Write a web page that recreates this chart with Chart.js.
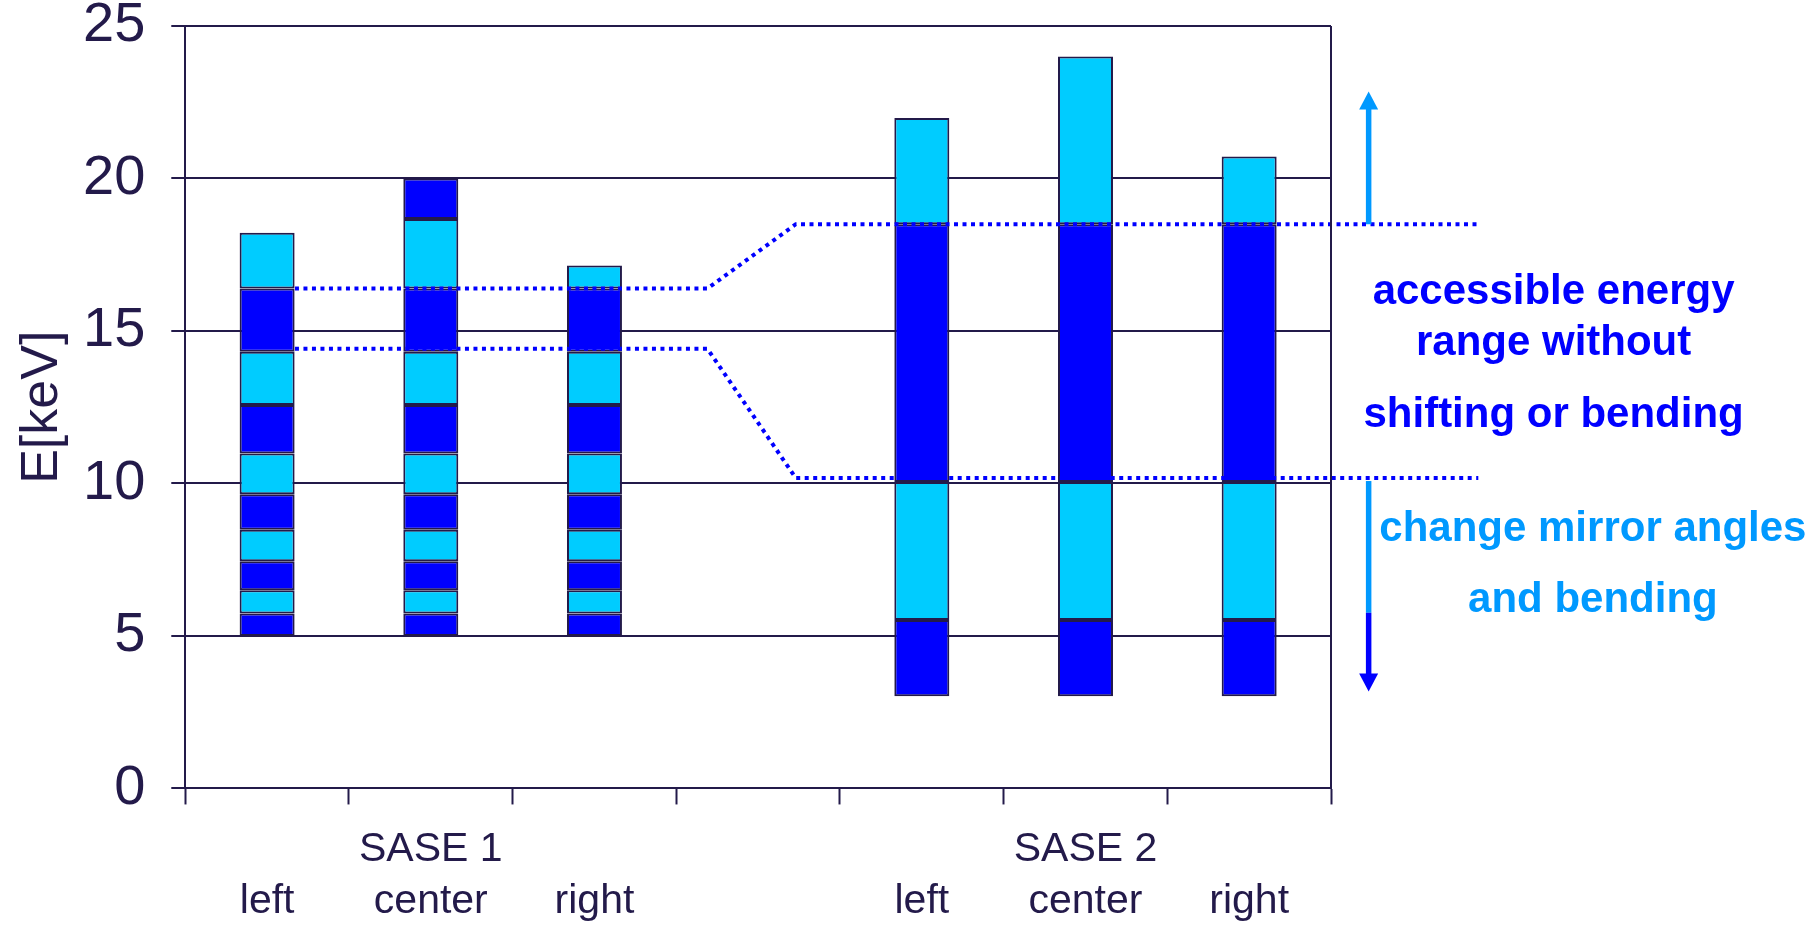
<!DOCTYPE html>
<html>
<head>
<meta charset="utf-8">
<script src="https://cdn.jsdelivr.net/npm/chart.js@4"></script>
<style>
  html, body { margin: 0; padding: 0; background: #fff; }
  #wrap { width: 1818px; height: 925px; }
</style>
</head>
<body>
<div id="wrap"><canvas id="energyChart"></canvas></div>
<script>
// categories (two-line labels: group name above position)
const groupLabels = ['', 'SASE 1', '', '', '', 'SASE 2', ''];
const positionLabels = ['left', 'center', 'right', '', 'left', 'center', 'right'];

// segment boundaries of each bar in keV, bottom to top (segments alternate dark / light)
const sase1Left   = [5.0, 5.74, 6.5, 7.45, 8.48, 9.65, 10.98, 12.57, 14.32, 16.39, 18.22];
const sase1Center = [5.0, 5.74, 6.5, 7.45, 8.48, 9.65, 10.98, 12.57, 14.32, 16.39, 18.67, 20.0];
const sase1Right  = [5.0, 5.74, 6.5, 7.45, 8.48, 9.65, 10.98, 12.57, 14.32, 16.39, 17.15];
const sase2Left   = [3.02, 5.52, 10.05, 18.5, 21.98];
const sase2Center = [3.02, 5.52, 10.05, 18.5, 24.0];
const sase2Right  = [3.02, 5.52, 10.05, 18.5, 20.72];
const barBounds = [sase1Left, sase1Center, sase1Right, null, sase2Left, sase2Center, sase2Right];

// dotted range lines (x in category units, y in keV)
const upperLineX = [0.17, 2.69, 3.23, 7.4];
const upperLineY = [16.39, 16.39, 18.5, 18.5];
const lowerLineX = [0.17, 2.69, 3.23, 7.4];
const lowerLineY = [14.42, 14.42, 10.18, 10.18];

// arrows (keV): up arrow from/to, down arrow from / colour change / tip
const arrowUp = [18.5, 22.85];
const arrowDown = [10.08, 5.76, 3.18];

// y axis ticks
const yTicks = [0, 5, 10, 15, 20, 25];

// annotation text
const noteDark = ['accessible energy', 'range without', 'shifting or bending'];
const noteDarkY = [15.9, 14.2, 11.84];
const noteLight = ['change mirror angles', 'and bending'];
const noteLightY = [8.13, 5.8];

const navy = '#231a4a';
const darkBlue = '#0000ff';
const lightBlue = '#00ccff';
const arrowBlue = '#0099ff';
const fontFamily = 'Arial, "Liberation Sans", sans-serif';
Chart.defaults.font.family = fontFamily;

// one dataset per segment level
const maxSegs = Math.max(...barBounds.map(b => b ? b.length - 1 : 0));
const barSets = [];
for (let k = 0; k < maxSegs; k++) {
    barSets.push({
        type: 'bar',
        data: barBounds.map(b => (b && k < b.length - 1) ? [b[k], b[k + 1]] : null),
        backgroundColor: k % 2 === 0 ? darkBlue : lightBlue,
        borderColor: navy,
        borderWidth: 2,
        borderSkipped: false,
        grouped: false,
        barPercentage: 0.336,
        categoryPercentage: 1,
        order: 2
    });
}

function lineSet(xs, ys) {
    return {
        type: 'line',
        xAxisID: 'xl',
        data: xs.map((x, i) => ({x: x, y: ys[i]})),
        borderColor: darkBlue,
        borderWidth: 4,
        borderDash: [4, 4.5],
        borderCapStyle: 'butt',
        pointRadius: 0,
        tension: 0,
        fill: false,
        clip: false,
        order: 0
    };
}

const notesPlugin = {
    id: 'notes',
    afterDraw(chart) {
        const {ctx, chartArea, scales} = chart;
        const xl = scales.xl, y = scales.y;
        ctx.save();

        // right frame line
        ctx.strokeStyle = navy;
        ctx.lineWidth = 2;
        ctx.beginPath();
        ctx.moveTo(chartArea.right, chartArea.top);
        ctx.lineTo(chartArea.right, chartArea.bottom);
        ctx.stroke();

        const ax = xl.getPixelForValue(6.73);
        const headW = 19, headL = 18, shaft = 5.5;

        function shaftLine(y1, y2, color) {
            ctx.fillStyle = color;
            ctx.fillRect(ax - shaft / 2, Math.min(y1, y2), shaft, Math.abs(y2 - y1));
        }
        function arrowHead(tip, dir, color) {
            ctx.fillStyle = color;
            ctx.beginPath();
            ctx.moveTo(ax, tip);
            ctx.lineTo(ax - headW / 2, tip - dir * headL);
            ctx.lineTo(ax + headW / 2, tip - dir * headL);
            ctx.closePath();
            ctx.fill();
        }

        // up arrow
        const upTip = y.getPixelForValue(arrowUp[1]);
        shaftLine(y.getPixelForValue(arrowUp[0]), upTip + headL - 1, arrowBlue);
        arrowHead(upTip, -1, arrowBlue);

        // down arrow (light then dark)
        const dnTip = y.getPixelForValue(arrowDown[2]);
        shaftLine(y.getPixelForValue(arrowDown[0]), y.getPixelForValue(arrowDown[1]), arrowBlue);
        shaftLine(y.getPixelForValue(arrowDown[1]), dnTip - headL + 1, darkBlue);
        arrowHead(dnTip, 1, darkBlue);

        // text
        ctx.font = 'bold 42px ' + fontFamily;
        ctx.textAlign = 'center';
        ctx.textBaseline = 'alphabetic';
        ctx.fillStyle = darkBlue;
        const cx1 = xl.getPixelForValue(7.86);
        noteDark.forEach((t, i) => ctx.fillText(t, cx1, y.getPixelForValue(noteDarkY[i])));
        ctx.fillStyle = arrowBlue;
        const cx2 = xl.getPixelForValue(8.10);
        noteLight.forEach((t, i) => ctx.fillText(t, cx2, y.getPixelForValue(noteLightY[i])));
        ctx.restore();
    }
};

const ctx = document.getElementById('energyChart').getContext('2d');
window.energyChart = new Chart(ctx, {
    type: 'bar',
    data: {
        labels: groupLabels.map((g, i) => [g, positionLabels[i]]),
        datasets: barSets.concat([lineSet(upperLineX, upperLineY), lineSet(lowerLineX, lowerLineY)])
    },
    options: {
        responsive: true,
        maintainAspectRatio: false,
        animation: false,
        layout: {
            padding: {left: 11, right: 487, top: 25, bottom: -22}
        },
        plugins: {
            legend: {display: false},
            tooltip: {enabled: false}
        },
        scales: {
            x: {
                offset: true,
                grid: {
                    offset: true,
                    drawOnChartArea: false,
                    drawTicks: true,
                    tickLength: 16,
                    tickColor: navy,
                    tickWidth: 2
                },
                border: {display: true, color: navy, width: 2},
                ticks: {
                    color: navy,
                    font: {size: 41, lineHeight: 1.275},
                    padding: 19,
                    maxRotation: 0,
                    autoSkip: false
                }
            },
            xl: {
                type: 'linear',
                display: false,
                offset: false,
                grid: {offset: false},
                min: -0.5,
                max: 6.5,
                bounds: 'data'
            },
            y: {
                min: yTicks[0],
                max: yTicks[yTicks.length - 1],
                afterBuildTicks: axis => { axis.ticks = yTicks.map(v => ({value: v})); },
                grid: {
                    color: navy,
                    lineWidth: 2,
                    tickLength: 14,
                    tickColor: navy,
                    tickWidth: 2
                },
                border: {display: true, color: navy, width: 2},
                ticks: {
                    color: navy,
                    font: {size: 56, lineHeight: 0},
                    padding: 26
                },
                title: {
                    display: true,
                    text: 'E[keV]',
                    color: navy,
                    font: {size: 52, lineHeight: 1},
                    padding: {top: 6, bottom: -12}
                }
            }
        }
    },
    plugins: [notesPlugin]
});
</script>
</body>
</html>
